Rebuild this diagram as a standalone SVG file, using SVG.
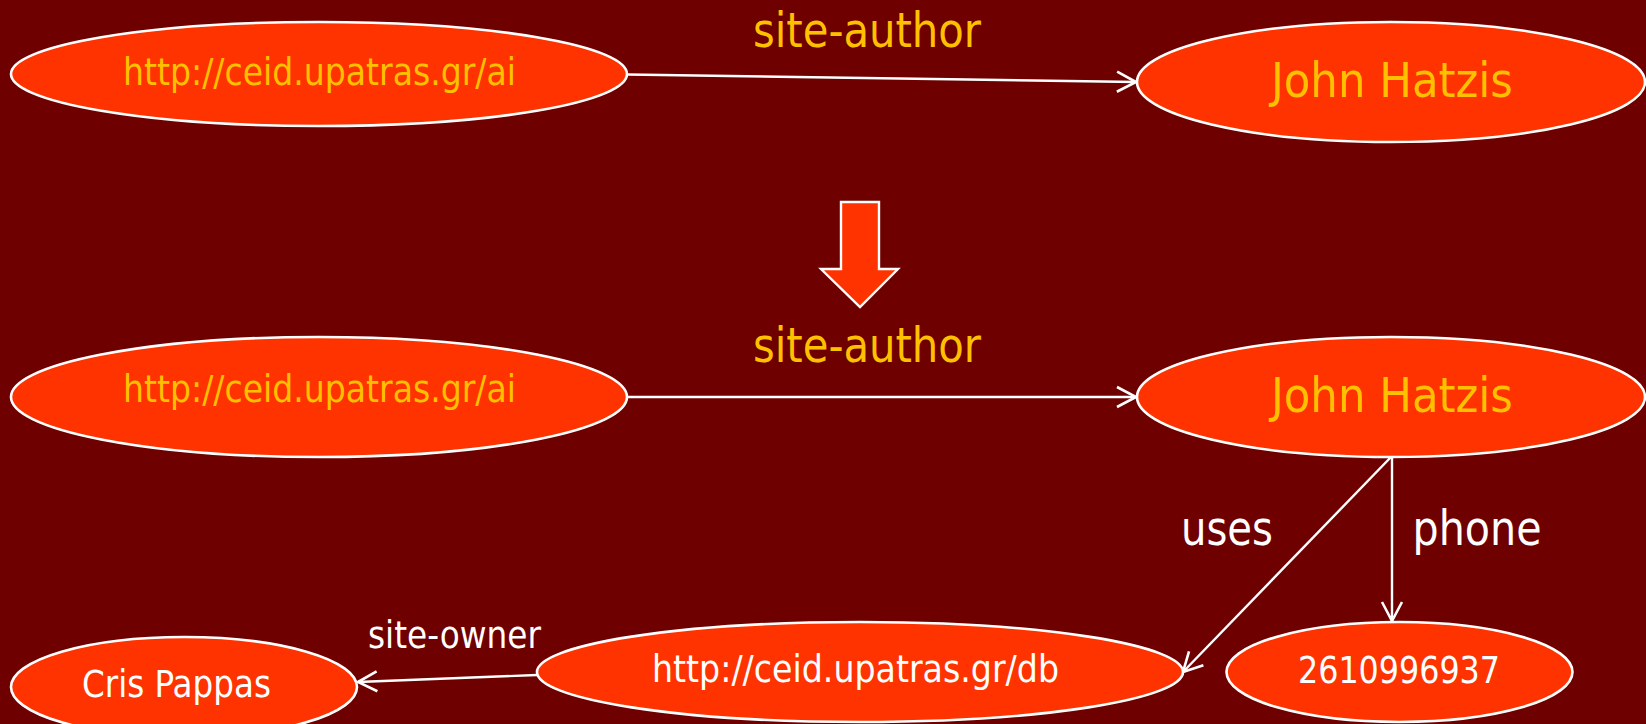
<svg xmlns="http://www.w3.org/2000/svg" width="1646" height="724" viewBox="0 0 1646 724">
  <style>
    .node { fill: #FF3300; stroke: #FFFFFF; stroke-width: 2.6; }
    .t { font-family: "DejaVu Sans Condensed", "DejaVu Sans", "Liberation Sans", sans-serif; text-anchor: middle; }
    .s { font-size: 37px; }
    .l { font-size: 48px; }
    .or { fill: #FFC000; }
    .wh { fill: #FFFFFF; }
    .edge { stroke: #FFFFFF; stroke-width: 2.4; fill: none; marker-end: url(#arr); }
  </style>
  <defs>
    <marker id="arr" markerUnits="userSpaceOnUse" viewBox="-22 -12 24 24" refX="0" refY="0" markerWidth="24" markerHeight="24" orient="auto" overflow="visible">
      <path d="M-19,-10 L0,0 L-19,10" fill="none" stroke="#FFFFFF" stroke-width="2.6"/>
    </marker>
  </defs>
  <rect x="0" y="0" width="1646" height="724" fill="#6E0000"/>

  <g id="connectors">
    <line class="edge" x1="627" y1="74.5" x2="1136" y2="82"/>
    <line class="edge" x1="627" y1="397" x2="1136" y2="397"/>
    <line class="edge" x1="1391" y1="457" x2="1183" y2="672"/>
    <line class="edge" x1="1392" y1="457" x2="1392" y2="621"/>
    <line class="edge" x1="537" y1="675" x2="358" y2="682"/>
    <text class="t l or" x="867" y="47" textLength="228" lengthAdjust="spacingAndGlyphs">site-author</text>
    <text class="t l or" x="867" y="362" textLength="228" lengthAdjust="spacingAndGlyphs">site-author</text>
    <text class="t l wh" x="1227" y="545" textLength="92" lengthAdjust="spacingAndGlyphs">uses</text>
    <text class="t l wh" x="1477" y="545" textLength="129" lengthAdjust="spacingAndGlyphs">phone</text>
    <text class="t s wh" x="454.5" y="648" textLength="173" lengthAdjust="spacingAndGlyphs">site-owner</text>
  </g>

  <g id="transform-arrow">
    <polygon points="841,202 879,202 879,269 898,269 860,307 821,269 841,269" fill="#FF3300" stroke="#FFFFFF" stroke-width="2.4"/>
  </g>

  <g id="node-ai-1">
    <ellipse class="node" cx="319" cy="74" rx="308" ry="52"/>
    <text class="t s or" x="319.5" y="85" textLength="393" lengthAdjust="spacingAndGlyphs">http://ceid.upatras.gr/ai</text>
  </g>
  <g id="node-john-1">
    <ellipse class="node" cx="1391" cy="82" rx="254" ry="60"/>
    <text class="t l or" x="1392" y="97" textLength="242" lengthAdjust="spacingAndGlyphs">John Hatzis</text>
  </g>
  <g id="node-ai-2">
    <ellipse class="node" cx="319" cy="397" rx="308" ry="60"/>
    <text class="t s or" x="319.5" y="401.5" textLength="393" lengthAdjust="spacingAndGlyphs">http://ceid.upatras.gr/ai</text>
  </g>
  <g id="node-john-2">
    <ellipse class="node" cx="1391" cy="397" rx="254" ry="60"/>
    <text class="t l or" x="1392" y="412" textLength="242" lengthAdjust="spacingAndGlyphs">John Hatzis</text>
  </g>
  <g id="node-cris">
    <ellipse class="node" cx="184" cy="687" rx="173" ry="50"/>
    <text class="t s wh" x="176.5" y="697" textLength="189" lengthAdjust="spacingAndGlyphs">Cris Pappas</text>
  </g>
  <g id="node-db">
    <ellipse class="node" cx="860" cy="672" rx="323" ry="50"/>
    <text class="t s wh" x="855.5" y="682" textLength="407" lengthAdjust="spacingAndGlyphs">http://ceid.upatras.gr/db</text>
  </g>
  <g id="node-phone">
    <ellipse class="node" cx="1399.5" cy="672" rx="173" ry="50"/>
    <text class="t s wh" x="1399" y="683" textLength="202" lengthAdjust="spacingAndGlyphs">2610996937</text>
  </g>
</svg>
